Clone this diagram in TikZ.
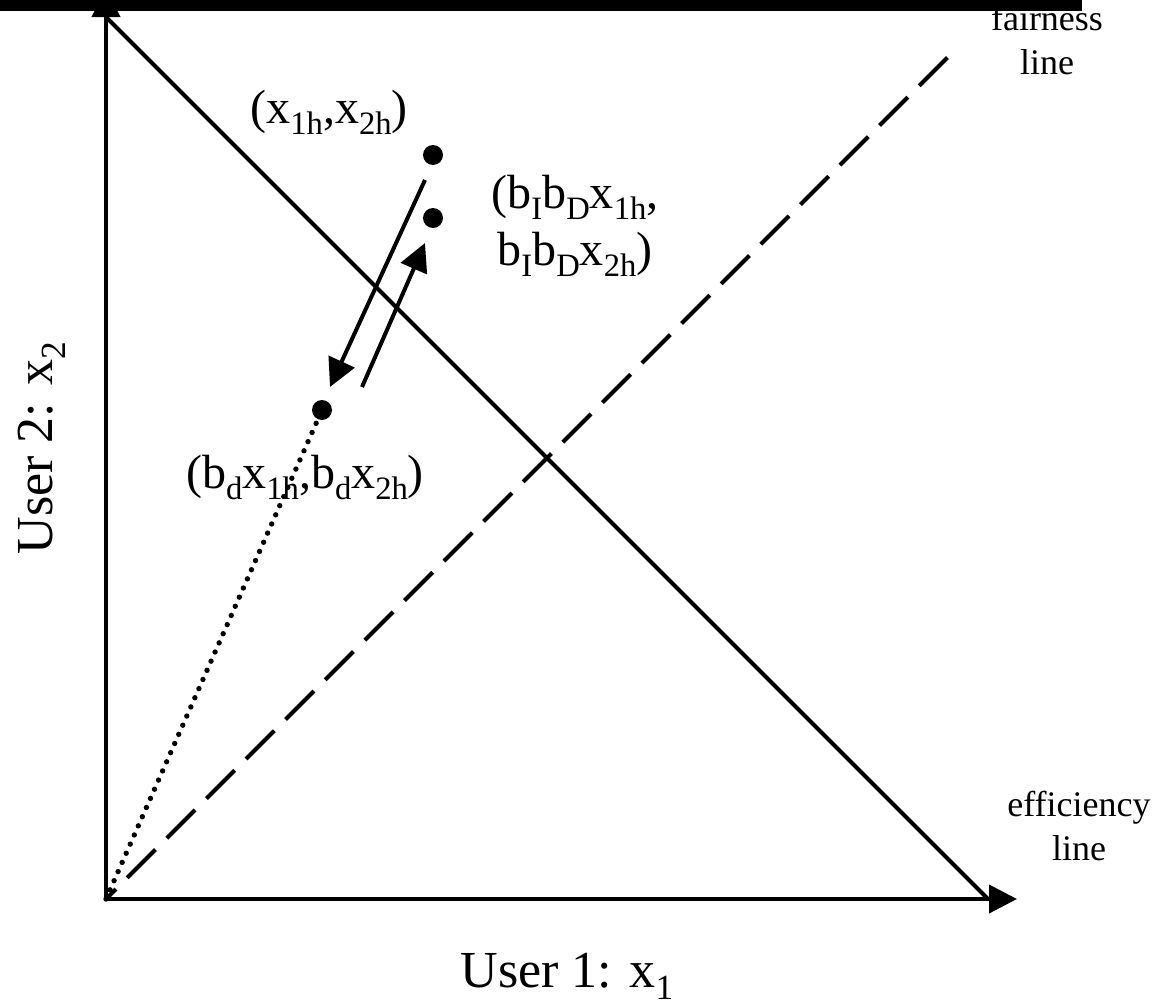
\documentclass[tikz,border=0pt]{standalone}
\usepackage{fontspec}
\setmainfont{Liberation Serif}
\usepackage{graphicx}
\usepackage{tikz}
\usetikzlibrary{arrows.meta,positioning,calc}
\newcommand{\sbs}[1]{\raisebox{-0.24em}{\scalebox{0.68}{#1}}}

\begin{document}
\begin{tikzpicture}[
  x=0.5pt, y=-0.5pt,
  axisline/.style={line width=2pt, {Triangle[length=14pt, width=14pt]}-{Triangle[length=14pt, width=14pt]}},
  effline/.style={line width=2pt},
  fairline/.style={line width=2pt, dash pattern=on 20pt off 8pt, dash phase=13pt},
  rayline/.style={line width=2.7pt, line cap=round, dash pattern=on 0pt off 5pt},
  movearrow/.style={line width=2pt, -{Triangle[length=14pt, width=14pt]}},
  opdot/.style={circle, fill, inner sep=0pt, minimum size=10pt},
  ptlabel/.style={font=\fontsize{24}{28.5}\selectfont, anchor=base, inner sep=0pt},
  axislabel/.style={font=\fontsize{26}{31}\selectfont, anchor=base, inner sep=0pt},
  linelabel/.style={font=\fontsize{18}{22}\selectfont, align=center, anchor=base, inner sep=0pt}
]
\useasboundingbox (0,0) rectangle (1174,1001);

\coordinate (O) at (106,899);
\coordinate (ytip) at (106,-11);
\coordinate (xtip) at (1017,899);
\coordinate (effT) at (106,17);
\coordinate (effB) at (988,899);
\coordinate (fairE) at (952,53);

\node[opdot] (ph) at (433,155) {};
\node[opdot] (pb) at (433,218) {};
\node[opdot] (pd) at (322,410) {};

\draw[axisline] (ytip) -- (O) -- (xtip);
\draw[effline] (effT) -- (effB);
\draw[fairline] (O) -- (fairE);
\draw[rayline] (O) -- (pd);

\draw[movearrow] ($(ph)+(-8,25)$) -- ($(pd)+(8,-23)$);
\draw[movearrow] ($(pd)+(40,-23)$) -- ($(pb)+(-8,25)$);

\fill (0,0) rectangle (1082,11);

\node[ptlabel] (lblh) at (329,123) {(x\sbs{1h},x\sbs{2h})};
\node[ptlabel, align=center] (lblb) at (575,265) {(b\sbs{I}b\sbs{D}x\sbs{1h},\\b\sbs{I}b\sbs{D}x\sbs{2h})};
\node[ptlabel] (lbld) at (305,488) {(b\sbs{d}x\sbs{1h},b\sbs{d}x\sbs{2h})};

\node[linelabel] (fairlbl) at (1047,75) {fairness\\line};
\node[linelabel] (efflbl) at (1079,860) {efficiency\\line};

\node[axislabel] (xlbl) at (567,987) {User 1: x\sbs{1}};
\node[axislabel, rotate=90] (ylbl) at (53,448) {User 2: x\sbs{2}};
\end{tikzpicture}
\end{document}
